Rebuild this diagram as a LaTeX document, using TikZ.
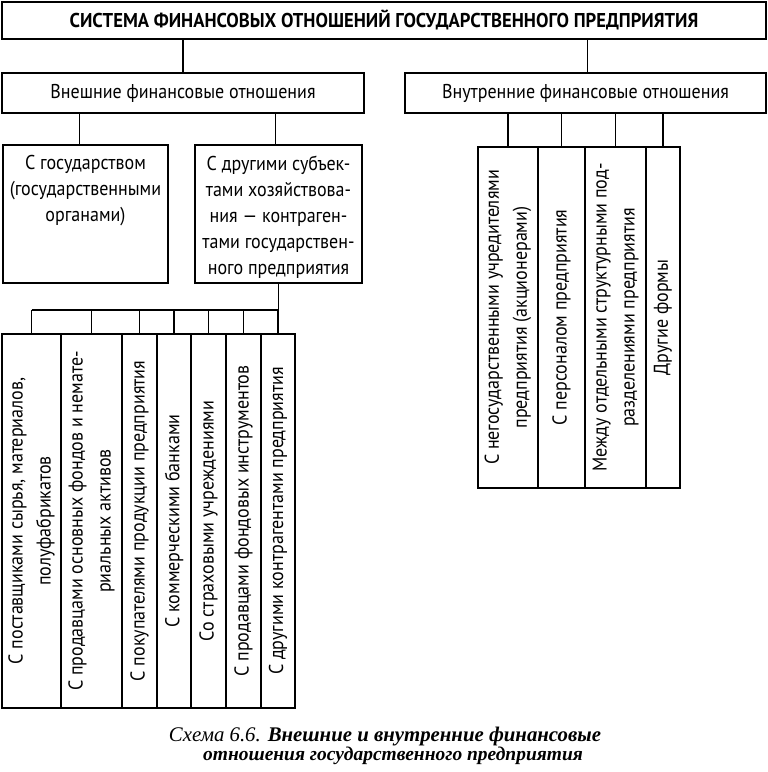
\documentclass[tikz,border=0pt]{standalone}
\usepackage{fontspec}
\setmainfont{PT Sans}[FakeStretch=0.9]
\newfontfamily\titlefont{PT Sans}[FakeStretch=0.93]
\newfontfamily\capfont{Liberation Serif}
\usetikzlibrary{fit}

\begin{document}
\begin{tikzpicture}[x=0.75pt, y=-0.75pt, line width=0.9pt,
    box/.style={draw, inner sep=0pt},
    txt/.style={font=\fontsize{15}{19.5}\selectfont, align=center, inner sep=0pt},
    rot/.style={txt, font=\fontsize{15}{21}\selectfont, rotate=90}]
    \useasboundingbox (0,0) rectangle (768,772);

    % top level
    \node (sys) [box, fit={(2,2) (766,39)}] {};
    \node (systext) [font=\titlefont\bfseries\fontsize{15}{18}\selectfont] at (sys.center)
        {СИСТЕМА ФИНАНСОВЫХ ОТНОШЕНИЙ ГОСУДАРСТВЕННОГО ПРЕДПРИЯТИЯ};
    \node (ext) [box, fit={(2,73) (364,113)}] {};
    \node (exttext) [txt] at (ext.center) {Внешние финансовые отношения};
    \node (int) [box, fit={(405,73) (766,113)}] {};
    \node (inttext) [txt] at (int.center) {Внутренние финансовые отношения};
    \draw (ext.north) -- (ext.north |- sys.south);
    \draw ([xshift=1.2pt]int.north) -- ([xshift=1.2pt]int.north |- sys.south);

    % external relations
    \node (gos) [box, fit={(3,145) (168,283)}] {};
    \node (gostext) [txt, anchor=north] at (gos.north |- 0,155) {С государством\\(государственными\\органами)};
    \node (oth) [box, fit={(195,145) (362,283)}] {};
    \node (othtext) [txt, anchor=north] at (oth.north |- 0,155) {С другими субъек-\\тами хозяйствова-\\ния — контраген-\\тами государствен-\\ного предприятия};
    \draw ([xshift=-4.5pt]gos.north) -- ([xshift=-4.5pt]gos.north |- ext.south);
    \draw ([xshift=-2pt]oth.north) -- ([xshift=-2pt]oth.north |- ext.south);

    % counterparties
    \node (b1) [box, fit={(2,334) (61,708)}] {};
    \node (b2) [box, fit={(61,334) (122,708)}] {};
    \node (b3) [box, fit={(122,334) (157,708)}] {};
    \node (b4) [box, fit={(157,334) (191,708)}] {};
    \node (b5) [box, fit={(191,334) (226,708)}] {};
    \node (b6) [box, fit={(226,334) (261,708)}] {};
    \node (b7) [box, fit={(261,334) (295,708)}] {};
    \node [rot] at (b1) {С поставщиками сырья, материалов,\\полуфабрикатов};
    \node [rot] at (b2) {С продавцами основных фондов и немате-\\риальных активов};
    \node [rot] at (b3) {С покупателями продукции предприятия};
    \node [rot] at (b4) {С коммерческими банками};
    \node [rot] at (b5) {Со страховыми учреждениями};
    \node [rot] at (b6) {С продавцами фондовых инструментов};
    \node [rot] at (b7) {С другими контрагентами предприятия};
    \coordinate (bus) at (0,310);
    \draw (oth.south) -- (oth.south |- bus);
    \draw (b1.north |- bus) -- (b7.north |- bus);
    \foreach \i in {1,...,7}
        \draw (b\i.north) -- (b\i.north |- bus);

    % internal relations
    \node (r1) [box, fit={(478,147) (538,488)}] {};
    \node (r2) [box, fit={(538,147) (585,488)}] {};
    \node (r3) [box, fit={(585,147) (646,488)}] {};
    \node (r4) [box, fit={(646,147) (680,488)}] {};
    \node [rot] at (r1) {С негосударственными учредителями\\предприятия (акционерами)};
    \node [rot] at (r2) {С персоналом предприятия};
    \node [rot] at (r3) {Между отдельными структурными под-\\разделениями предприятия};
    \node [rot] at (r4) {Другие формы};
    \foreach \i in {1,...,4}
        \draw (r\i.north) -- (r\i.north |- int.south);

    % caption
    \node (cap) [font=\capfont, align=center] at (385,746)
        {\itshape\fontsize{15.6}{17.5}\selectfont Схема 6.6. \bfseries Внешние и внутренние финансовые\\
         \hspace*{12pt}\bfseries\itshape\fontsize{14.6}{17.5}\selectfont отношения государственного предприятия};
\end{tikzpicture}
\end{document}
